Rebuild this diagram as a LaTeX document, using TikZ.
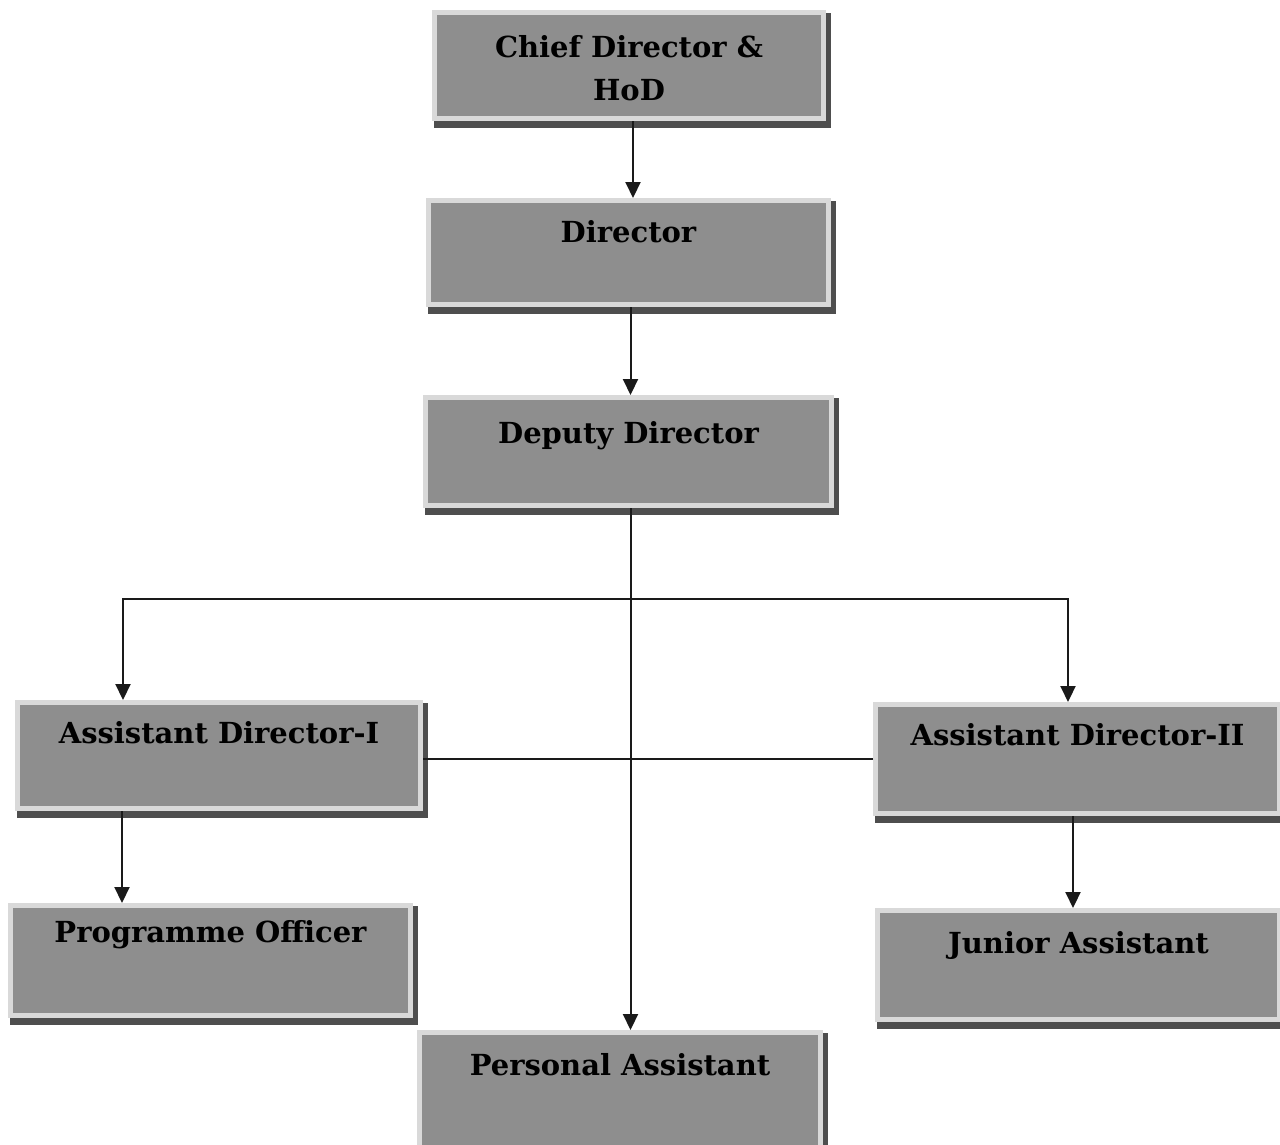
\documentclass[tikz,border=0pt]{standalone}
\usepackage{fontspec}
\setmainfont{DejaVu Serif}
\usetikzlibrary{arrows.meta,calc}
\definecolor{framec}{HTML}{D9D9D9}
\definecolor{fillc}{HTML}{8E8E8E}
\definecolor{shadowc}{HTML}{4E4E4E}
\definecolor{linec}{HTML}{1A1A1A}
\newcommand\orgbox[5]{% name x1 y1 x2 y2
  \fill[shadowc] (#2+2,#3+3) rectangle (#4+5,#5+7);
  \node[boxst, minimum width={(#4-#2)*0.02cm-0.1cm}, minimum height={(#5-#3)*0.02cm-0.1cm}]
    (#1) at ({(#2+#4)/2},{(#3+#5)/2}) {};}
\begin{document}
\begin{tikzpicture}[x=0.02cm,y=-0.02cm,
  boxst/.style={draw=framec, fill=fillc, line width=0.1cm, inner sep=0pt},
  lbl/.style={font=\fontsize{16.5}{20}\selectfont\bfseries, text=black, inner sep=0pt, anchor=base},
  conn/.style={draw=linec, line width=0.04cm, -{Triangle[width=0.3cm,length=0.32cm]}},
  plain/.style={draw=linec, line width=0.04cm}]
\fill[white] (0,0) rectangle (1280,1144);
\useasboundingbox (0,0) rectangle (1280,1144);
\orgbox{chief}{432}{10}{826}{121}
\orgbox{dir}{426}{198}{831}{307}
\orgbox{dep}{423}{395}{834}{508}
\orgbox{ad1}{15}{700}{423}{811}
\orgbox{ad2}{873}{702}{1282}{816}
\orgbox{po}{8}{903}{413}{1018}
\orgbox{ja}{875}{908}{1282}{1022}
\orgbox{pa}{417}{1030}{823}{1150}
\node[lbl] (chief-t1) at ($(chief.north)+(0,47)$) {Chief Director \&};
\node[lbl] (chief-t2) at ($(chief.north)+(0,90)$) {HoD};
\node[lbl] (dir-t) at ($(dir.north)+(0,44)$) {Director};
\node[lbl] (dep-t) at ($(dep.north)+(0,48)$) {Deputy Director};
\node[lbl] (ad1-t) at ($(ad1.north)+(0,43)$) {Assistant Director-I};
\node[lbl] (ad2-t) at ($(ad2.north)+(0,43)$) {Assistant Director-II};
\node[lbl] (po-t) at ($(po.north)+(0,39)$) {Programme Officer};
\node[lbl] (ja-t) at ($(ja.north)+(0,45)$) {Junior Assistant};
\node[lbl] (pa-t) at ($(pa.north)+(0,45)$) {Personal Assistant};
% connectors
\draw[conn] ($(chief.south)+(4,0)$) -- ($(chief.south |- dir.north)+(4,0)$);
\draw[conn] ($(dir.south)+(2,0)$) -- ($(dir.south |- dep.north)+(2,0)$);
\draw[conn] ($(dep.south)+(2,0)$) -- ($(dep.south |- pa.north)+(2,0)$);
\coordinate (j) at ($(dep.south)+(2,91)$);
\draw[conn] (j) -| ($(ad1.north)+(-96,0)$);
\draw[conn] (j) -| ($(ad2.north)+(-9.5,0)$);
\draw[plain] (ad2.west) -- (ad2.west -| ad1.east);
\draw[conn] ($(ad1.south)+(-97,0)$) -- ($(ad1.south |- po.north)+(-97,0)$);
\draw[conn] ($(ad2.south)+(-4.5,0)$) -- ($(ad2.south |- ja.north)+(-4.5,0)$);
\end{tikzpicture}
\end{document}
